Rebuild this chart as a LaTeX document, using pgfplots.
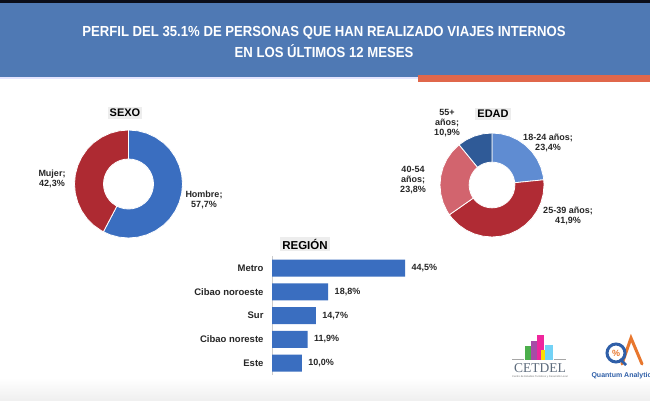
\documentclass[border=0pt]{standalone}
\usepackage{fontspec}
\setmainfont{Liberation Sans}
\newfontfamily\condfont[FakeStretch=0.9]{Liberation Sans}
\newfontfamily\logoserif{Liberation Serif}
\usepackage{pgfplots}
\pgfplotsset{compat=1.18}
\usepgfplotslibrary{polar}
\definecolor{banner}{HTML}{4F79B4}
\definecolor{topblack}{HTML}{0B0E1A}
\definecolor{accent}{HTML}{E0674B}
\definecolor{hombre}{HTML}{3A6EC0}
\definecolor{mujer}{HTML}{AE2A32}
\definecolor{eA}{HTML}{5F8CD2}
\definecolor{eB}{HTML}{B02B34}
\definecolor{eC}{HTML}{D2646E}
\definecolor{eD}{HTML}{2F5A97}
\definecolor{barblue}{HTML}{3A6EC0}
\definecolor{qblue}{HTML}{2F5FA8}
\definecolor{qorange}{HTML}{E8772E}
\definecolor{logogrey}{HTML}{5D6B7C}
\begin{document}
\begin{tikzpicture}[x=1pt,y=1pt]
\useasboundingbox (0,0) rectangle (650,400);
\fill[white] (0,0) rectangle (650,400);
\shade[top color=white,bottom color=black!6] (0,0) rectangle (650,22);
% banner
\fill[blue!10] (0,321) rectangle (650,323);
\fill[banner] (0,323) rectangle (650,397);
\fill[topblack] (0,397) rectangle (650,400);
\fill[accent] (418,318) rectangle (650,325.5);
\node[white,align=center,font=\condfont\bfseries\fontsize{14.6}{20.7}\selectfont] at (324,358.3)
  {PERFIL DEL 35.1\% DE PERSONAS QUE HAN REALIZADO VIAJES INTERNOS\\EN LOS ÚLTIMOS 12 MESES};

% ---------------- SEXO: Hombre 57.7 %, Mujer 42.3 % (clockwise from top)
\begin{polaraxis}[at={(128.5pt,216pt)},anchor=center,width=108pt,height=108pt,scale only axis,
  hide axis,ymin=0,ymax=1,xmin=0,xmax=360,clip=false]
\addplot[fill=hombre,draw=white,line width=0.8pt,mark=none] coordinates {
(90,1)(80,1)(70,1)(60,1)(50,1)(40,1)(30,1)(20,1)(10,1)(0,1)(-10,1)(-20,1)(-30,1)(-40,1)(-50,1)(-60,1)(-70,1)(-80,1)(-90,1)(-100,1)(-110,1)(-117.72,1)
(-117.72,0.463)(-110,0.463)(-100,0.463)(-90,0.463)(-80,0.463)(-70,0.463)(-60,0.463)(-50,0.463)(-40,0.463)(-30,0.463)(-20,0.463)(-10,0.463)(0,0.463)(10,0.463)(20,0.463)(30,0.463)(40,0.463)(50,0.463)(60,0.463)(70,0.463)(80,0.463)(90,0.463)} -- cycle;
\addplot[fill=mujer,draw=white,line width=0.8pt,mark=none] coordinates {
(-117.72,1)(-120,1)(-130,1)(-140,1)(-150,1)(-160,1)(-170,1)(-180,1)(-190,1)(-200,1)(-210,1)(-220,1)(-230,1)(-240,1)(-250,1)(-260,1)(-270,1)
(-270,0.463)(-260,0.463)(-250,0.463)(-240,0.463)(-230,0.463)(-220,0.463)(-210,0.463)(-200,0.463)(-190,0.463)(-180,0.463)(-170,0.463)(-160,0.463)(-150,0.463)(-140,0.463)(-130,0.463)(-120,0.463)(-117.72,0.463)} -- cycle;
\end{polaraxis}

% ---------------- EDAD: 18-24 23.4 %, 25-39 41.9 %, 40-54 23.8 %, 55+ 10.9 %
\begin{polaraxis}[at={(492pt,215pt)},anchor=center,width=104pt,height=104pt,scale only axis,
  hide axis,ymin=0,ymax=1,xmin=0,xmax=360,clip=false]
\addplot[fill=eA,draw=white,line width=0.8pt,mark=none] coordinates {
(90,1)(80,1)(70,1)(60,1)(50,1)(40,1)(30,1)(20,1)(10,1)(5.76,1)
(5.76,0.44)(10,0.44)(20,0.44)(30,0.44)(40,0.44)(50,0.44)(60,0.44)(70,0.44)(80,0.44)(90,0.44)} -- cycle;
\addplot[fill=eB,draw=white,line width=0.8pt,mark=none] coordinates {
(5.76,1)(0,1)(-10,1)(-20,1)(-30,1)(-40,1)(-50,1)(-60,1)(-70,1)(-80,1)(-90,1)(-100,1)(-110,1)(-120,1)(-130,1)(-140,1)(-145.08,1)
(-145.08,0.44)(-140,0.44)(-130,0.44)(-120,0.44)(-110,0.44)(-100,0.44)(-90,0.44)(-80,0.44)(-70,0.44)(-60,0.44)(-50,0.44)(-40,0.44)(-30,0.44)(-20,0.44)(-10,0.44)(0,0.44)(5.76,0.44)} -- cycle;
\addplot[fill=eC,draw=white,line width=0.8pt,mark=none] coordinates {
(-145.08,1)(-150,1)(-160,1)(-170,1)(-180,1)(-190,1)(-200,1)(-210,1)(-220,1)(-230,1)(-230.76,1)
(-230.76,0.44)(-230,0.44)(-220,0.44)(-210,0.44)(-200,0.44)(-190,0.44)(-180,0.44)(-170,0.44)(-160,0.44)(-150,0.44)(-145.08,0.44)} -- cycle;
\addplot[fill=eD,draw=white,line width=0.8pt,mark=none] coordinates {
(-230.76,1)(-240,1)(-250,1)(-260,1)(-270,1)
(-270,0.44)(-260,0.44)(-250,0.44)(-240,0.44)(-230.76,0.44)} -- cycle;
\end{polaraxis}

% headers
\node[fill=black!7,inner sep=2pt,font=\bfseries\fontsize{11}{13}\selectfont] at (125,287) {SEXO};
\node[fill=black!7,inner sep=2pt,font=\bfseries\fontsize{11}{13}\selectfont] at (493,286) {EDAD};
\node[fill=black!7,inner sep=2pt,font=\bfseries\fontsize{11.5}{13}\selectfont] at (305,156) {REGIÓN};

% donut labels
\begin{scope}[every node/.style={align=center,font=\bfseries\fontsize{9}{10}\selectfont,text=black!85}]
\node at (52,221.5) {Mujer;\\42,3\%};
\node at (204,200) {Hombre;\\57,7\%};
\node at (447,276.5) {55+\\años;\\10,9\%};
\node at (548,257.5) {18-24 años;\\23,4\%};
\node at (413,220) {40-54\\años;\\23,8\%};
\node at (568,184.5) {25-39 años;\\41,9\%};
\end{scope}

% ---------------- REGIÓN
\begin{axis}[at={(272pt,25pt)},anchor=south west,xbar,width=149.5pt,height=118.75pt,scale only axis,
  xmin=0,xmax=50,ymin=-0.5,ymax=4.5,bar width=17pt,
  axis x line=none,axis y line*=left,y axis line style={draw=black!20,-},
  ytick={0,1,2,3,4},yticklabels={Este,Cibao noreste,Sur,Cibao noroeste,Metro},
  major tick length=0pt,tick style={draw=none},
  yticklabel style={font=\bfseries\fontsize{9.5}{11}\selectfont,text=black!85,xshift=-5pt},
  point meta=x,
  nodes near coords={\pgfmathprintnumber[fixed,fixed zerofill,precision=1,use comma,assume math mode=true]{\pgfplotspointmeta}\%},
  nodes near coords style={font=\bfseries\fontsize{9}{11}\selectfont,text=black!85,xshift=3pt},
  clip=false]
\addplot[fill=barblue,draw=none] coordinates {(10.0,0) (11.9,1) (14.7,2) (18.8,3) (44.5,4)};
\end{axis}

% ---------------- logos
\fill[green!55!black!70] (525,40) rectangle (531,54);
\fill[violet!70] (531,40) rectangle (537,59);
\fill[magenta!85] (537,40) rectangle (544,65);
\fill[yellow!80!orange] (541,40) rectangle (545,50);
\fill[cyan!55] (545,40) rectangle (553,55);
\draw[black!35,line width=0.5pt] (512,41) -- (524,41) (554,41) -- (566,41);
\node[text=logogrey,font=\logoserif\fontsize{13.5}{14}\selectfont] at (540,32) {CETDEL};
\node[text=black!55,font=\fontsize{2.6}{3}\selectfont] at (540,23.5) {Centro de Estudios Turísticos y Desarrollo Local};
% Quantum Analytics
\draw[qorange,line width=3pt,line cap=round] (622,36) -- (631,62) -- (642,36);
\draw[qblue,line width=3pt] (616,47) circle (9);
\draw[qblue,line width=2.5pt] (620,41) -- (626,35);
\node[text=qorange,font=\bfseries\fontsize{9}{10}\selectfont] at (616,47) {\%};
\node[anchor=west,text=qblue,font=\bfseries\fontsize{7}{8}\selectfont] at (588,24) {Quantum Analytics};
\end{tikzpicture}
\end{document}
